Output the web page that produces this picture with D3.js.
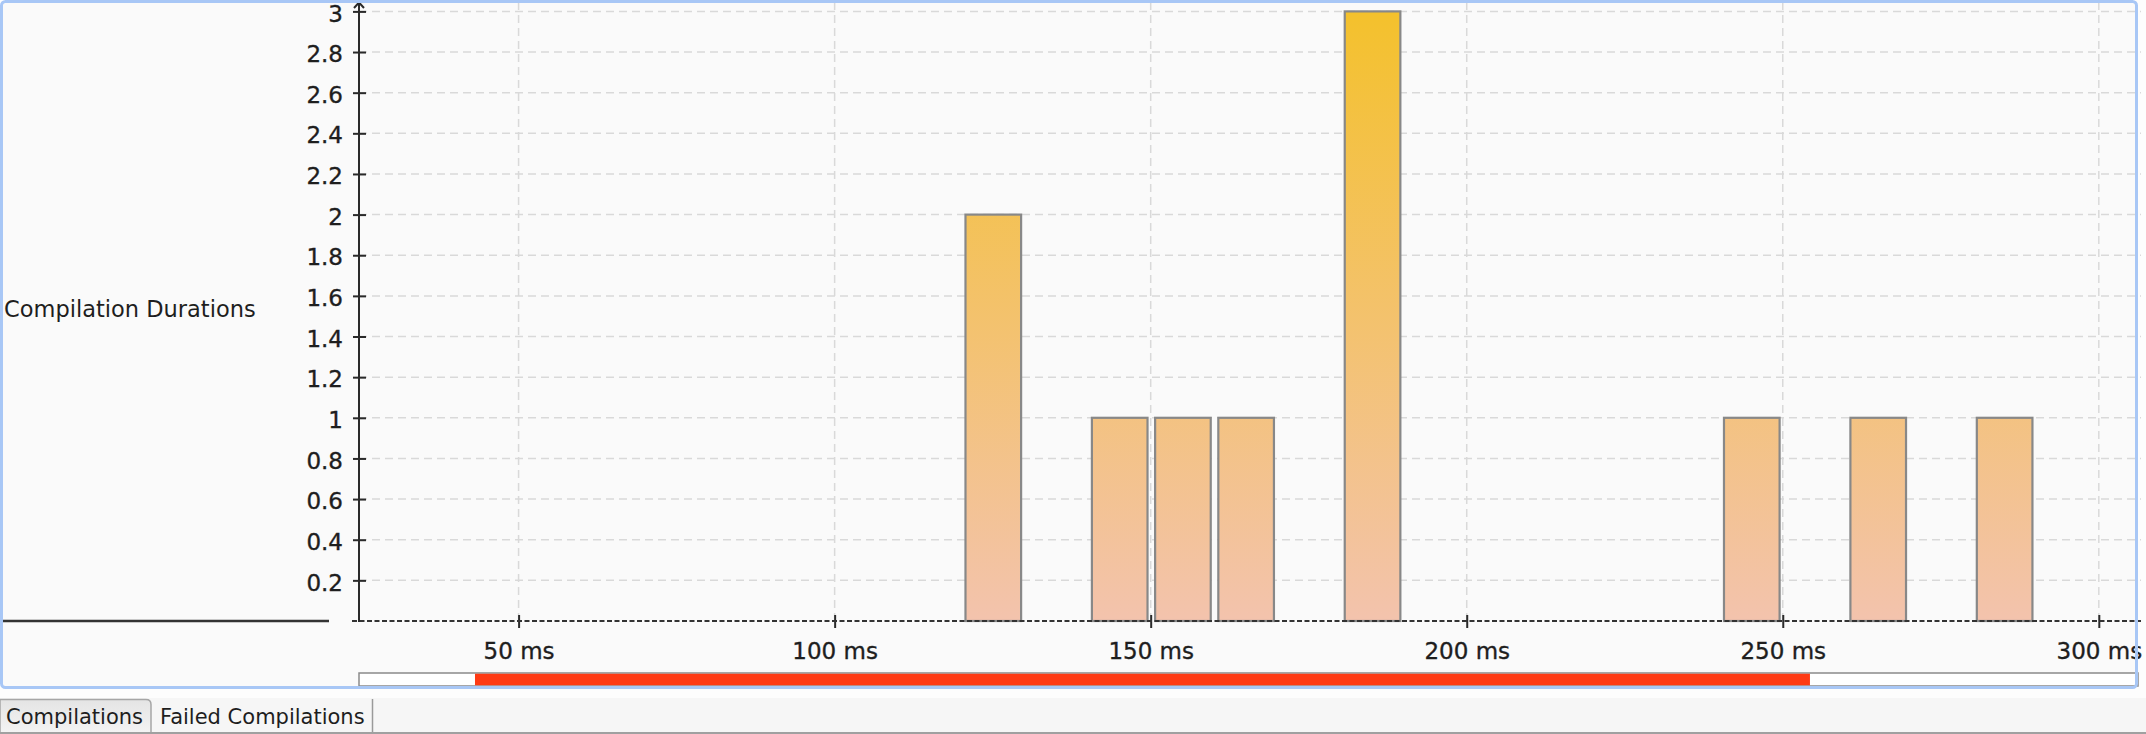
<!DOCTYPE html>
<html>
<head>
<meta charset="utf-8">
<script src="https://cdn.jsdelivr.net/npm/d3@7/dist/d3.min.js"></script>
<style>
  html, body { margin: 0; padding: 0; background: #f6f6f6; }
  svg { display: block; }
  text { font-family: "DejaVu Sans", "Noto Sans", sans-serif; fill: #1e1e1e; }
</style>
</head>
<body>
<svg id="chart" width="2146" height="734"></svg>
<script>
// ---- data ----
const binStarts = [120, 140, 150, 160, 180, 240, 260, 280];   // ms, bin start
const binCounts = [2, 1, 1, 1, 3, 1, 1, 1];                   // compilations per bin
const binWidth = 10;                                          // ms
const xTicks = [50, 100, 150, 200, 250, 300];
const xTickLabels = ["50 ms", "100 ms", "150 ms", "200 ms", "250 ms", "300 ms"];
const yTicks = [0.2, 0.4, 0.6, 0.8, 1, 1.2, 1.4, 1.6, 1.8, 2, 2.2, 2.4, 2.6, 2.8, 3];
const yTickLabels = ["0.2", "0.4", "0.6", "0.8", "1", "1.2", "1.4", "1.6", "1.8", "2", "2.2", "2.4", "2.6", "2.8", "3"];
const xDomain = [24.75, 306.2];
const yDomain = [0, 3];
const selectionRange = [43.1, 254.3];                         // ms, highlighted range
const yLabel = "Compilation Durations";
const tabs = ["Compilations", "Failed Compilations"];

// ---- layout ----
const svg = d3.select("#chart");
const W = 2146, H = 734;
const x = d3.scaleLinear().domain(xDomain).range([359, 2138]);
const y = d3.scaleLinear().domain(yDomain).range([621, 11.4]);

// panel background
svg.append("rect").attr("x", 0).attr("y", 0).attr("width", W).attr("height", H).attr("fill", "#f6f6f6");
svg.append("rect").attr("x", 0).attr("y", 0).attr("width", W).attr("height", 698).attr("fill", "#fdfdfd");
svg.append("rect").attr("x", 1.5).attr("y", 1.5).attr("width", 2135).attr("height", 686)
  .attr("rx", 4).attr("fill", "#fafafa");

// gradient
const defs = svg.append("defs");
const grad = defs.append("linearGradient").attr("id", "barGrad")
  .attr("gradientUnits", "userSpaceOnUse")
  .attr("x1", 0).attr("x2", 0).attr("y1", y(3)).attr("y2", y(0));
grad.append("stop").attr("offset", "0%").attr("stop-color", "#f4c12c");
grad.append("stop").attr("offset", "100%").attr("stop-color", "#f3c3ad");

const selGrad = defs.append("linearGradient").attr("id", "tabGrad")
  .attr("x1", 0).attr("x2", 0).attr("y1", 0).attr("y2", 1);
selGrad.append("stop").attr("offset", "0%").attr("stop-color", "#e4e4e4");
selGrad.append("stop").attr("offset", "100%").attr("stop-color", "#f4f4f4");

// grid lines
const grid = svg.append("g");
grid.selectAll("line.h").data(yTicks).join("line")
  .attr("x1", x.range()[0]).attr("x2", 2141)
  .attr("y1", d => y(d)).attr("y2", d => y(d))
  .attr("stroke", "#d9d9d9").attr("stroke-width", 1.5).attr("stroke-dasharray", "8,5");
grid.selectAll("line.v").data(xTicks).join("line")
  .attr("x1", d => x(d)).attr("x2", d => x(d))
  .attr("y1", y(0)).attr("y2", 3)
  .attr("stroke", "#d9d9d9").attr("stroke-width", 1.5).attr("stroke-dasharray", "8,5");

// bars
const bars = binStarts.map((s, i) => ({ start: s, count: binCounts[i] }));
svg.append("g").selectAll("rect").data(bars).join("rect")
  .attr("x", d => x(d.start + 0.07 * binWidth))
  .attr("width", d => x(d.start + 0.95 * binWidth) - x(d.start + 0.07 * binWidth))
  .attr("y", d => y(d.count))
  .attr("height", d => y(0) - y(d.count))
  .attr("fill", "url(#barGrad)")
  .attr("stroke", "#888888").attr("stroke-width", 2.2);

// x axis (dashed dark line + ticks)
const xAxisG = svg.append("g").attr("transform", `translate(0,${y(0)})`);
const xAxis = d3.axisBottom(x).tickValues(xTicks).tickFormat((d, i) => xTickLabels[i])
  .tickSizeInner(0).tickSizeOuter(0).tickPadding(22);
xAxisG.call(xAxis);
xAxisG.select(".domain").remove();
xAxisG.append("line").attr("x1", 352).attr("x2", 2141).attr("y1", 0).attr("y2", 0)
  .attr("stroke", "#333333").attr("stroke-width", 2.2).attr("stroke-dasharray", "5,2.5");
xAxisG.selectAll(".tick").append("line")
  .attr("y1", -6).attr("y2", 7).attr("stroke", "#2a2a2a").attr("stroke-width", 2);
xAxisG.selectAll(".tick text")
  .style("font-size", "23px").attr("fill", "#1e1e1e")
  .attr("stroke", "#1e1e1e").attr("stroke-width", 0.35)
  .attr("font-family", "DejaVu Sans, sans-serif");

// y axis
const yAxisG = svg.append("g").attr("transform", `translate(${x.range()[0]},0)`);
const yAxis = d3.axisLeft(y).tickValues(yTicks).tickFormat((d, i) => yTickLabels[i])
  .tickSizeInner(0).tickSizeOuter(0).tickPadding(16);
yAxisG.call(yAxis);
yAxisG.select(".domain").remove();
yAxisG.append("line").attr("x1", 0).attr("x2", 0).attr("y1", 2).attr("y2", y(0) + 1)
  .attr("stroke", "#2a2a2a").attr("stroke-width", 2);
yAxisG.selectAll(".tick").append("line")
  .attr("x1", -6).attr("x2", 7).attr("stroke", "#2a2a2a").attr("stroke-width", 2);
yAxisG.selectAll(".tick text")
  .attr("dy", "0.42em")
  .style("font-size", "23px").attr("fill", "#1e1e1e")
  .attr("stroke", "#1e1e1e").attr("stroke-width", 0.35)
  .attr("font-family", "DejaVu Sans, sans-serif");
yAxisG.append("path").attr("d", "M-5,8 L0,2.5 L5,8")
  .attr("fill", "none").attr("stroke", "#2a2a2a").attr("stroke-width", 2);

// left separator line
svg.append("line").attr("x1", 0).attr("x2", 329).attr("y1", y(0)).attr("y2", y(0))
  .attr("stroke", "#333").attr("stroke-width", 2.5);

// y label
svg.append("text").attr("x", 4).attr("y", 317).text(yLabel)
  .style("font-size", "22.5px").attr("fill", "#222");

// selection range bar
const rb = svg.append("g");
rb.append("rect").attr("x", x(xDomain[0])).attr("y", 673)
  .attr("width", x(xDomain[1]) - x(xDomain[0])).attr("height", 13)
  .attr("fill", "#ffffff").attr("stroke", "#8a8a8a").attr("stroke-width", 1.5);
rb.append("rect").attr("x", x(selectionRange[0])).attr("y", 673.75)
  .attr("width", x(selectionRange[1]) - x(selectionRange[0])).attr("height", 11.5)
  .attr("fill", "#ff3a14");

// blue panel border
svg.append("rect").attr("x", 1.5).attr("y", 1.5).attr("width", 2135).attr("height", 686)
  .attr("rx", 4).attr("fill", "none").attr("stroke", "#a8c7f6").attr("stroke-width", 3);

// tabs
const tg = svg.append("g");
tg.append("path").attr("d", "M0,734 L0,699.5 L146,699.5 Q151,699.5 151,704.5 L151,734")
  .attr("fill", "url(#tabGrad)").attr("stroke", "#a6a6a6").attr("stroke-width", 1.5);
tg.append("line").attr("x1", 372.5).attr("x2", 372.5).attr("y1", 699).attr("y2", 734)
  .attr("stroke", "#9a9a9a").attr("stroke-width", 1.5);
tg.append("line").attr("x1", 0).attr("x2", W).attr("y1", 733).attr("y2", 733)
  .attr("stroke", "#a0a0a0").attr("stroke-width", 2);
const tabX = [6, 160];
tg.selectAll("text").data(tabs).join("text")
  .attr("x", (d, i) => tabX[i]).attr("y", 724)
  .text(d => d).style("font-size", "21px").attr("fill", "#1a1a1a");
</script>
</body>
</html>
